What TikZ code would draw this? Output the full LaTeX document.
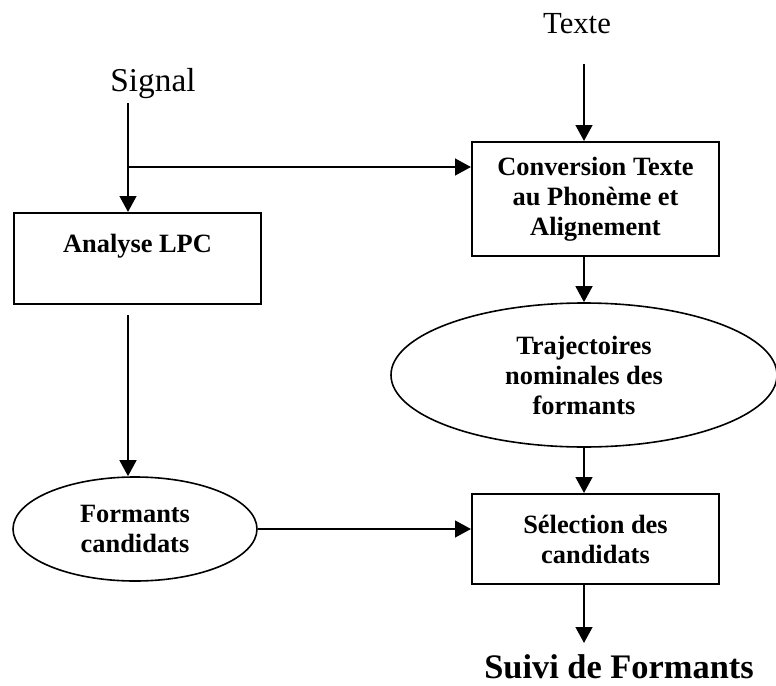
\documentclass[tikz,border=0pt]{standalone}
\usepackage{fontspec}
\setmainfont{Liberation Serif}
\usetikzlibrary{arrows.meta,shapes.geometric}
\tikzset{
  arr/.style={line width=1.8pt,-{Triangle[length=12pt,width=12.5pt]}},
  box/.style={draw,line width=1.5pt,rectangle,inner sep=0pt,align=center,
    font=\bfseries\fontsize{19.8}{22.5}\selectfont},
  oval/.style={draw,line width=1.2pt,ellipse,inner sep=0pt,align=center,
    font=\bfseries\fontsize{19.8}{22.5}\selectfont},
}
\begin{document}
\begin{tikzpicture}[x=0.75pt,y=-0.75pt]
\useasboundingbox (0,0) rectangle (776,686);
% inputs
\node[anchor=base,font=\fontsize{25}{28}\selectfont,inner sep=0pt] (signal) at (153,91) {Signal};
\node[anchor=base,font=\fontsize{23}{26}\selectfont,inner sep=0pt] (texte) at (577,33) {Texte};
\coordinate (sigtop) at (128,103);
\coordinate (branch) at (128,167);
\coordinate (txttop) at (584,64);
% blocks
\node[box,minimum width=247*0.75pt,minimum height=91*0.75pt] (lpc) at (137.5,258.5) {Analyse LPC\\\mbox{}};
\node[box,minimum width=247*0.75pt,minimum height=114*0.75pt] (conv) at (595.5,199) {Conversion Texte\\au Phonème et\\Alignement};
\node[oval,minimum width=386*0.75pt,minimum height=144*0.75pt] (traj) at (584,375) {Trajectoires\\nominales des\\formants};
\node[oval,minimum width=244*0.75pt,minimum height=104*0.75pt] (fc) at (135,529) {Formants\\candidats};
\node[box,minimum width=247*0.75pt,minimum height=90*0.75pt] (sel) at (595.5,539) {Sélection des\\candidats};
\coordinate (outtip) at (584,643);
\node[anchor=base,font=\bfseries\fontsize{25.8}{29}\selectfont,inner sep=0pt,text depth=0pt] (suivi) at (619,678) {Suivi de Formants};
% connectors
\draw[arr] (sigtop) -- (sigtop |- lpc.north);
\draw[arr] (branch) -- (branch -| conv.west);
\draw[arr] (txttop) -- (txttop |- conv.north);
\draw[arr] (conv.south -| txttop) -- (traj.north);
\draw[arr] (traj.south) -- (sel.north -| traj.south);
\draw[arr,shorten <=7.5pt] (lpc.south -| sigtop) -- (fc.north -| sigtop);
\draw[arr] (fc.east) -- (fc.east -| sel.west);
\draw[arr] (sel.south -| txttop) -- (outtip);
\end{tikzpicture}
\end{document}
